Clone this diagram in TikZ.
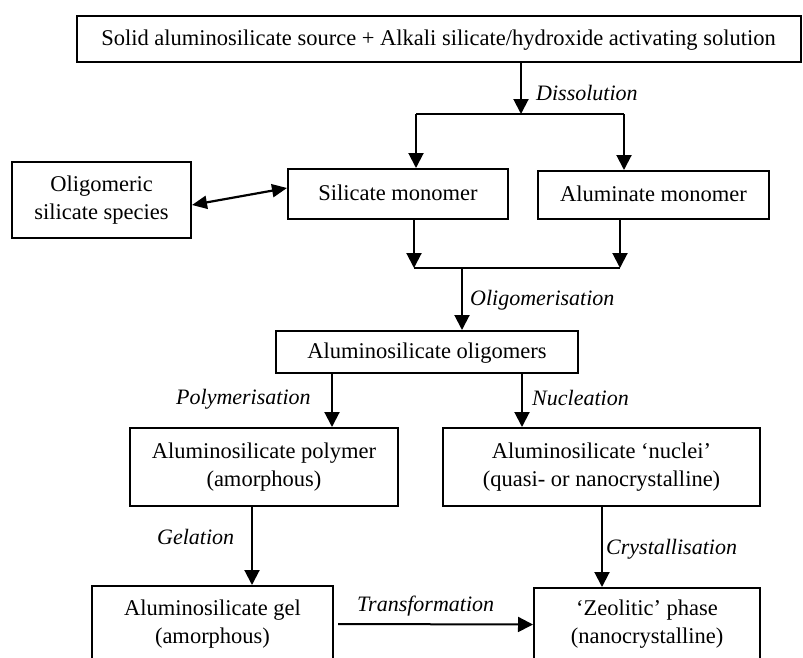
\documentclass[tikz,border=0pt]{standalone}
\usepackage{fontspec}
\setmainfont{Liberation Serif}
\usetikzlibrary{arrows.meta}
\begin{document}
\begin{tikzpicture}[x=1pt,y=-1pt,
  box/.style={draw, line width=2pt, inner sep=0pt, align=center, font=\fontsize{22.5}{28}\selectfont},
  one/.style={text height=16pt, text depth=4pt},
  ln/.style={line width=2pt},
  arr/.style={line width=2pt, -{Triangle[length=15pt,width=15pt]}},
  dbl/.style={line width=2.2pt, {Triangle[length=15pt,width=13pt]}-{Triangle[length=15pt,width=13pt]}},
  lab/.style={font=\fontsize{22}{28}\selectfont\itshape, inner sep=0pt, anchor=base west},
]
\useasboundingbox (0,0) rectangle (803,657);
\clip (0,0) rectangle (803,657);
\fill[white] (0,0) rectangle (803,657);

% boxes
\node[box, one, minimum width=724pt, minimum height=46pt] (top) at (438.5,39)
  {Solid aluminosilicate source + Alkali silicate/hydroxide activating solution};
\node[box, minimum width=179pt, minimum height=76pt] (oli) at (101.5,200)
  {Oligomeric\\silicate species};
\node[box, one, minimum width=220pt, minimum height=50pt] (sil) at (398,194) {Silicate monomer};
\node[box, one, minimum width=231pt, minimum height=48pt] (alu) at (653.5,195) {Aluminate monomer};
\node[box, one, minimum width=302pt, minimum height=42pt] (olig) at (427,352) {Aluminosilicate oligomers};
\node[box, minimum width=268pt, minimum height=78pt] (poly) at (264,467)
  {Aluminosilicate polymer\\(amorphous)};
\node[box, minimum width=317pt, minimum height=78pt] (nuc) at (601.5,467)
  {Aluminosilicate ‘nuclei’\\(quasi- or nanocrystalline)};
\node[box, minimum width=241pt, minimum height=76pt] (gel) at (212.5,624)
  {Aluminosilicate gel\\(amorphous)};
\node[box, minimum width=226pt, minimum height=73pt] (zeo) at (647,624.5)
  {‘Zeolitic’ phase\\(nanocrystalline)};

% dissolution split
\coordinate (dm) at (521,114);
\coordinate (dl) at (416,114);
\coordinate (dr) at (624,114);
\draw[arr] (dm |- top.south) -- (dm);
\draw[ln] (dl) -- (dr);
\draw[arr] (dl) -- (dl |- sil.north);
\draw[arr] (dr) -- (dr |- alu.north);

% merge
\coordinate (ml) at (414,268);
\coordinate (mr) at (620,268);
\coordinate (mm) at (462,268);
\draw[arr] (ml |- sil.south) -- (ml);
\draw[arr] (mr |- alu.south) -- (mr);
\draw[ln] (ml) -- (mr);
\draw[arr] (mm) -- (mm |- olig.north);

% double arrow
\draw[dbl] ([yshift=-5pt]oli.east) -- ([yshift=6pt]sil.west);

% lower arrows
\coordinate (px) at (332,0);
\coordinate (nx) at (522,0);
\coordinate (gx) at (252,0);
\coordinate (cx) at (602,0);
\draw[arr] (px |- olig.south) -- (px |- poly.north);
\draw[arr] (nx |- olig.south) -- (nx |- nuc.north);
\draw[arr] (gx |- poly.south) -- (gx |- gel.north);
\draw[arr] (cx |- nuc.south) -- (cx |- zeo.north);
\draw[arr] ([xshift=4pt]gel.east) -- (zeo.west);

% labels
\node[lab] (l1) at (536,100) {Dissolution};
\node[lab] (l2) at (470,305) {Oligomerisation};
\node[lab] (l3) at (176,404) {Polymerisation};
\node[lab] (l4) at (532,405) {Nucleation};
\node[lab] (l5) at (157,544) {Gelation};
\node[lab] (l6) at (606,554) {Crystallisation};
\node[lab] (l7) at (357,611) {Transformation};
\end{tikzpicture}
\end{document}
